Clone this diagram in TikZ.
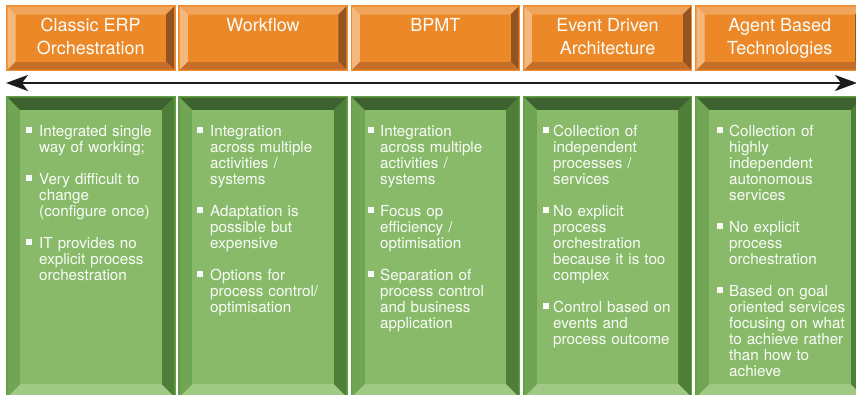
\documentclass[tikz,border=0pt]{standalone}
\usepackage{fontspec}
\setmainfont{TeX Gyre Heros}
\usetikzlibrary{arrows.meta}
\definecolor{orface}{RGB}{236,136,40}
\definecolor{ortop}{RGB}{240,163,90}
\definecolor{orleft}{RGB}{244,184,125}
\definecolor{orright}{RGB}{148,84,34}
\definecolor{orbottom}{RGB}{196,110,42}
\definecolor{orborder}{RGB}{238,140,48}
\definecolor{grface}{RGB}{136,186,106}
\definecolor{grtop}{RGB}{62,97,48}
\definecolor{grleft}{RGB}{112,165,84}
\definecolor{grright}{RGB}{78,126,55}
\definecolor{grbottom}{RGB}{160,201,133}
\definecolor{grborder}{RGB}{98,158,68}
\definecolor{arrowcol}{RGB}{28,28,28}
\definecolor{txt}{RGB}{250,252,248}
% #1 x1, #2 y1, #3 x2, #4 y2, #5 bevel, #6 colour prefix
\newcommand\bevbox[6]{%
  \fill[#6border] (#1,#2) rectangle (#3,#4);
  \fill[#6top] (#1+1.5,#2+1.5) -- (#3-1.5,#2+1.5) -- (#3-1.5-#5,#2+1.5+#5) -- (#1+1.5+#5,#2+1.5+#5) -- cycle;
  \fill[#6right] (#3-1.5,#2+1.5) -- (#3-1.5,#4-1.5) -- (#3-1.5-#5,#4-1.5-#5) -- (#3-1.5-#5,#2+1.5+#5) -- cycle;
  \fill[#6bottom] (#1+1.5,#4-1.5) -- (#3-1.5,#4-1.5) -- (#3-1.5-#5,#4-1.5-#5) -- (#1+1.5+#5,#4-1.5-#5) -- cycle;
  \fill[#6left] (#1+1.5,#2+1.5) -- (#1+1.5,#4-1.5) -- (#1+1.5+#5,#4-1.5-#5) -- (#1+1.5+#5,#2+1.5+#5) -- cycle;
  \fill[#6face] (#1+1.5+#5,#2+1.5+#5) rectangle (#3-1.5-#5,#4-1.5-#5);
}
\newcommand\bl[1][7pt]{\leavevmode\llap{\rule[3.4pt]{6pt}{6pt}\hspace{#1}}\ignorespaces}
\tikzset{
  hdr/.style={text=txt, font=\fontsize{18}{22.3}\selectfont, align=center, anchor=base, inner sep=0pt},
  body/.style={text=txt, font=\fontsize{15.2}{16}\selectfont, text width=150pt, align=left, anchor=base west, inner sep=0pt},
  timeline/.style={line width=2pt, draw=arrowcol, {Stealth[length=22pt,width=16pt,inset=6pt]}-{Stealth[length=22pt,width=16pt,inset=6pt]}}
}
\begin{document}
\begin{tikzpicture}[x=1pt,y=-1pt]
\useasboundingbox (0,0) rectangle (856,394);
\clip (0,0) rectangle (856,394);
\fill[white] (0,0) rectangle (856,394);
% green boxes
\foreach \l in {6,178.25,350.5,522.75,695}{
  \bevbox{\l}{96}{\l+169.5}{398}{12.5}{gr}
}
% orange boxes
\foreach \l in {6,178.25,350.5,522.75,695}{
  \bevbox{\l}{5}{\l+169.5}{71}{8}{or}
}
% timeline arrow
\coordinate (aL) at (6,83);
\coordinate (aR) at (857,83);
\draw[timeline] (aL) -- (aR);
% headers
\node[hdr] (h1) at (90.75,54) {Classic ERP\\Orchestration};
\node[hdr] (h2) at (263,31.7) {Workflow};
\node[hdr] (h3) at (435.25,31.7) {BPMT};
\node[hdr] (h4) at (607.5,54) {Event Driven\\Architecture};
\node[hdr] (h5) at (779.75,54) {Agent Based\\Technologies};
% bodies
\node[body] (b1) at (39,136.7) {\bl Integrated single\\way of working;\\[16pt]\bl Very difficult to\\change\\(configure once)\\[16pt]\bl IT provides no\\explicit process\\orchestration};
\node[body] (b2) at (210,136.7) {\bl Integration\\across multiple\\activities /\\systems\\[16pt]\bl Adaptation is\\possible but\\expensive\\[16pt]\bl Options for\\process control/\\optimisation};
\node[body] (b3) at (380,136.7) {\bl[6pt] Integration\\across multiple\\activities /\\systems\\[16pt]\bl[6pt] Focus op\\efficiency /\\optimisation\\[16pt]\bl[6pt] Separation of\\process control\\and business\\application};
\node[body] (b4) at (553,136.7) {\bl[4pt] Collection of\\independent\\processes /\\services\\[16pt]\bl[4pt] No explicit\\process\\orchestration\\because it is too\\complex\\[16pt]\bl[4pt] Control based on\\events and\\process outcome};
\node[body] (b5) at (729,136.7) {\bl[6pt] Collection of\\highly\\independent\\autonomous\\services\\[16pt]\bl[6pt] No explicit\\process\\orchestration\\[16pt]\bl[6pt] Based on goal\\oriented services\\focusing on what\\to achieve rather\\than how to\\achieve};
\end{tikzpicture}
\end{document}
